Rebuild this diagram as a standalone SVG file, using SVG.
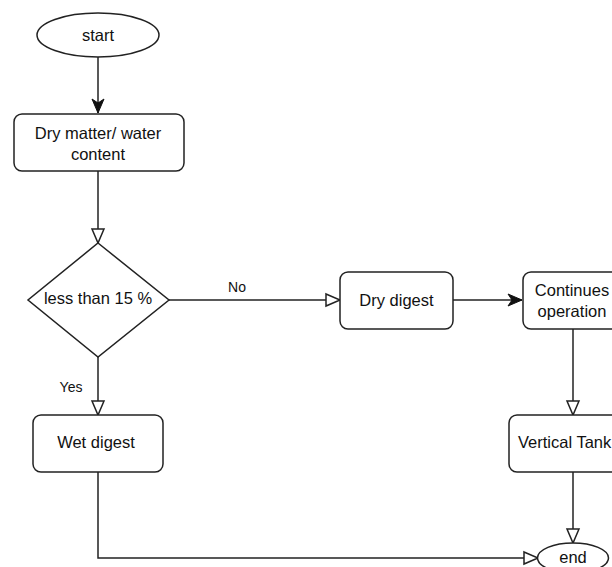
<svg xmlns="http://www.w3.org/2000/svg" width="612" height="567" viewBox="0 0 612 567">
<style>
.n{fill:#fff;stroke:#222;stroke-width:1.5}
.c{fill:none;stroke:#222;stroke-width:1.5}
text{font-family:"Liberation Sans",Arial,sans-serif;font-size:16.5px;fill:#111;text-anchor:middle}
.s{font-size:14px}
</style>
<defs>
<marker id="open" markerUnits="userSpaceOnUse" markerWidth="16" markerHeight="14" refX="14" refY="6.5" orient="auto" overflow="visible">
<path d="M0,0.5 L14,6.5 L0,12.5 Z" fill="#fff" stroke="#222" stroke-width="1.5"/>
</marker>
<marker id="fill" markerUnits="userSpaceOnUse" markerWidth="16" markerHeight="14" refX="14" refY="6" orient="auto" overflow="visible">
<path d="M0,0 L14,6 L0,12 L4,6 Z" fill="#111" stroke="#111" stroke-width="1"/>
</marker>
</defs>
<g id="connectors">
<path class="c" d="M98,57 L98,113" marker-end="url(#fill)"/>
<path class="c" d="M98,171 L98,243" marker-end="url(#open)"/>
<path class="c" d="M169,300 L340,300" marker-end="url(#open)"/>
<path class="c" d="M98,357 L98,415" marker-end="url(#open)"/>
<path class="c" d="M453,300 L522,300" marker-end="url(#fill)"/>
<path class="c" d="M573,329 L573,415" marker-end="url(#open)"/>
<path class="c" d="M573,472 L573,543" marker-end="url(#open)"/>
<path class="c" d="M98,472 L98,558 L538,558" marker-end="url(#open)"/>
<text class="s" x="237" y="292">No</text>
<text class="s" x="71" y="392">Yes</text>
</g>
<g id="start">
<ellipse class="n" cx="98" cy="35" rx="61" ry="22"/>
<text x="98" y="41">start</text>
</g>
<g id="drymatter">
<rect class="n" x="14" y="114" width="170" height="57" rx="8"/>
<text x="98" y="138.5">Dry matter/ water</text>
<text x="98" y="159.5">content</text>
</g>
<g id="decision">
<path class="n" d="M98,243 L169,300 L98,357 L28,300 Z"/>
<text x="98" y="304">less than 15 %</text>
</g>
<g id="drydigest">
<rect class="n" x="340" y="272" width="113" height="57" rx="8"/>
<text x="396.5" y="306">Dry digest</text>
</g>
<g id="continues">
<rect class="n" x="523" y="272" width="100" height="57" rx="8"/>
<text x="572" y="296">Continues</text>
<text x="572" y="317">operation</text>
</g>
<g id="wetdigest">
<rect class="n" x="33" y="415" width="130" height="57" rx="8"/>
<text x="96" y="448">Wet digest</text>
</g>
<g id="verticaltank">
<rect class="n" x="509" y="415" width="120" height="57" rx="8"/>
<text x="518" y="448" style="text-anchor:start">Vertical Tank</text>
</g>
<g id="end">
<ellipse class="n" cx="573" cy="558" rx="35.5" ry="15"/>
<text x="573" y="563">end</text>
</g>
</svg>
